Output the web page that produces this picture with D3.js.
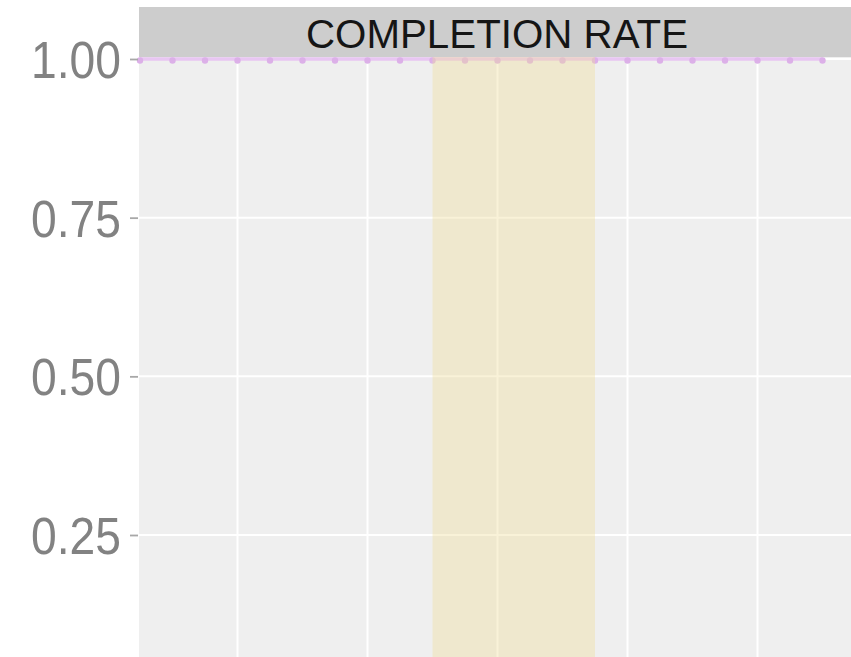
<!DOCTYPE html>
<html>
<head>
<meta charset="utf-8">
<script src="https://cdn.jsdelivr.net/npm/d3@7"></script>
<style>
  html, body { margin: 0; padding: 0; background: #ffffff; }
  svg { display: block; }
</style>
</head>
<body>
<svg id="chart" width="851" height="657"></svg>
<script>
// ---- data ----
const facetTitle = "COMPLETION RATE";
const periods = d3.range(0, 22);            // observation index
const completionRate = [1, 1, 1, 1, 1, 1, 1, 1, 1, 1, 1, 1, 1, 1, 1, 1, 1, 1, 1, 1, 1, 1];
const yTicks = [0.25, 0.50, 0.75, 1.00];
const xGridAt = [3, 7, 11, 15, 19];
const highlightStart = 9;
const highlightEnd = 14;

// ---- layout ----
const panelLeft = 139, panelRight = 870;
const stripTop = 7, stripBottom = 57;
const panelTop = 57, panelBottom = 700;

const svg = d3.select("#chart");

const x = d3.scaleLinear().domain([0, 22]).range([140, 855]);
const y = d3.scaleLinear().domain([0.25, 1.00]).range([535, 59]);

// panel background
svg.append("rect")
  .attr("x", panelLeft).attr("y", panelTop)
  .attr("width", panelRight - panelLeft).attr("height", panelBottom - panelTop)
  .attr("fill", "#efefef");

// gridlines
const g = svg.append("g");
g.selectAll("line.hg").data(yTicks).join("line")
  .attr("class", "hg")
  .attr("x1", panelLeft).attr("x2", panelRight)
  .attr("y1", d => y(d)).attr("y2", d => y(d))
  .attr("stroke", "#ffffff").attr("stroke-width", 2);
g.selectAll("line.vg").data(xGridAt).join("line")
  .attr("class", "vg")
  .attr("x1", d => x(d)).attr("x2", d => x(d))
  .attr("y1", panelTop).attr("y2", panelBottom)
  .attr("stroke", "#ffffff").attr("stroke-width", 2);

// series line + points
const series = periods.map((p, i) => ({ p, v: completionRate[i] }));
svg.append("path")
  .datum(series)
  .attr("fill", "none")
  .attr("stroke", "#e8c6f2")
  .attr("stroke-width", 3.5)
  .attr("d", d3.line().x(d => x(d.p)).y(d => y(d.v)));
svg.selectAll("circle.pt").data(series).join("circle")
  .attr("class", "pt")
  .attr("cx", d => x(d.p)).attr("cy", d => y(d.v) + 1.5)
  .attr("r", 3.2)
  .attr("fill", "#dcb0e8");

// highlighted period
svg.append("rect")
  .attr("x", x(highlightStart)).attr("y", panelTop)
  .attr("width", x(highlightEnd) - x(highlightStart))
  .attr("height", panelBottom - panelTop)
  .attr("fill", "#eedc98").attr("fill-opacity", 0.38);

// strip
svg.append("rect")
  .attr("x", panelLeft).attr("y", stripTop)
  .attr("width", panelRight - panelLeft).attr("height", stripBottom - stripTop)
  .attr("fill", "#cdcdcd");
svg.append("text")
  .attr("x", 497).attr("y", 48)
  .attr("text-anchor", "middle")
  .attr("font-family", "Liberation Sans, Arial, sans-serif")
  .attr("font-size", 40)
  .attr("textLength", 382).attr("lengthAdjust", "spacingAndGlyphs")
  .attr("fill", "#151515")
  .text(facetTitle);

// y axis
const yAxis = d3.axisLeft(y).tickValues(yTicks).tickFormat(d3.format(".2f")).tickSize(8).tickPadding(9);
const ya = svg.append("g").attr("transform", `translate(${panelLeft - 1},0)`).call(yAxis);
ya.select(".domain").remove();
ya.selectAll(".tick line").attr("stroke", "#a8a8a8").attr("stroke-width", 1.8);
ya.selectAll(".tick text")
  .attr("font-family", "Liberation Sans, Arial, sans-serif")
  .attr("font-size", 51)
  .attr("fill", "#828282")
  .attr("dy", "0.36em")
  .attr("textLength", 90).attr("lengthAdjust", "spacingAndGlyphs");
</script>
</body>
</html>
